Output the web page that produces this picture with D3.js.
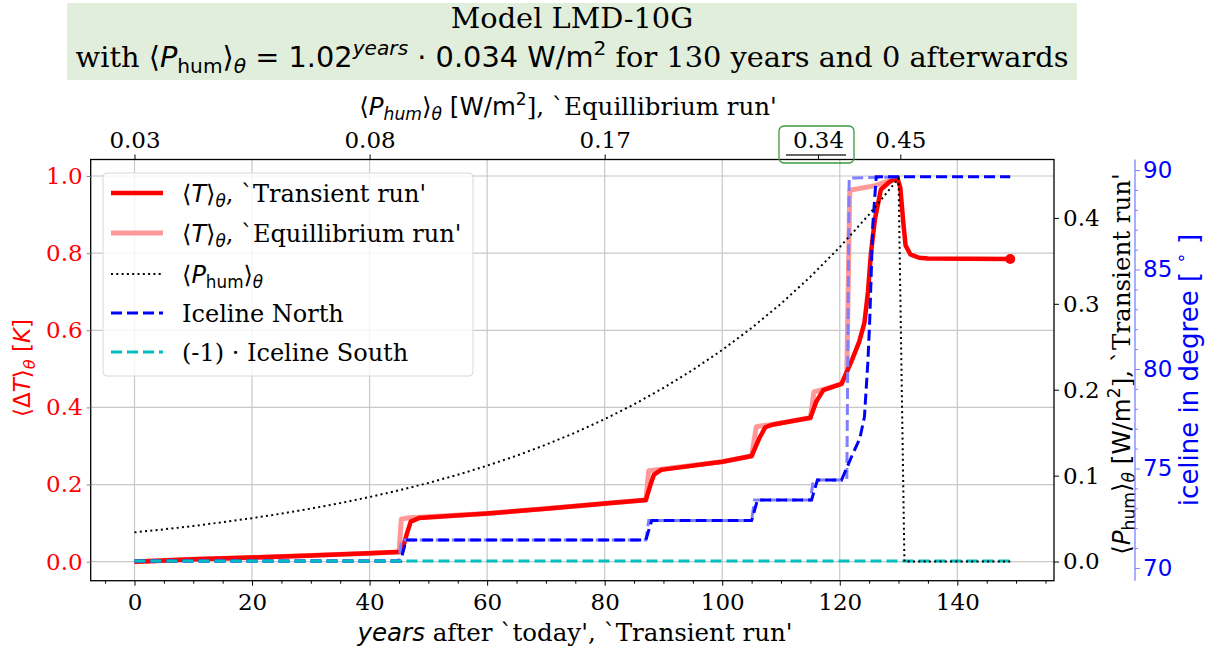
<!DOCTYPE html>
<html><head><meta charset="utf-8">
<script src="https://cdn.jsdelivr.net/npm/d3@7"></script>
<style>body{margin:0;background:#fff}svg{display:block}</style>
</head><body>
<svg id="c" width="1210" height="650"></svg>
<script>
// ---------- data ----------
const tYears   = [0,10,20,30,40,45.5,46.3,47,48.4,60,70,80,87,87.8,88.4,89.6,100,105,106.3,107.3,108.5,115,116,117.2,120.3,122,123.3,124.2,124.8,125.3,126,127,128.5,129.8,130.3,130.8,131.2,132,133.5,135,149];
const tValues  = [0,0.006,0.011,0.016,0.022,0.026,0.07,0.104,0.113,0.125,0.137,0.151,0.16,0.2,0.226,0.238,0.259,0.274,0.32,0.348,0.355,0.373,0.415,0.445,0.461,0.52,0.57,0.62,0.7,0.8,0.89,0.965,0.985,0.995,0.97,0.88,0.82,0.797,0.788,0.786,0.785];
const eqYears  = [0,10,20,30,40,45,45.4,46.3,48.4,60,80,87,87.5,89.6,100,105,105.8,108.5,115,115.6,117.2,120.3,121.2,121.7,126,130];
const eqValues = [0,0.006,0.011,0.016,0.022,0.025,0.11,0.113,0.115,0.125,0.151,0.16,0.236,0.24,0.259,0.274,0.35,0.356,0.373,0.44,0.447,0.461,0.49,0.963,0.975,0.995];
const pYears   = [0,5,10,15,20,25,30,35,40,45,50,55,60,65,70,75,80,85,90,95,100,105,110,115,120,125,130,131,149];
const pValues  = [0.034,0.0375,0.0414,0.0458,0.0505,0.0558,0.0616,0.068,0.0751,0.0829,0.0915,0.101,0.1116,0.1232,0.136,0.1501,0.1658,0.183,0.2021,0.2231,0.2463,0.2719,0.3002,0.3315,0.366,0.4041,0.4461,0,0];
const inYears  = [0,45.3,46.2,87,88,105,106,115.2,116.2,120.3,122,123.4,124.2,124.8,125.1,125.6,126.2,149];
const inValues = [70.35,70.35,71.4,71.4,72.38,72.38,73.42,73.42,74.42,74.42,75.59,76.5,77.6,80.45,82.46,87.15,89.66,89.66];
const ieYears  = [0,45,45.4,87,87.5,105,105.5,115,115.5,121.2,121.6,130];
const ieValues = [70.35,70.35,71.4,71.4,72.38,72.38,73.42,73.42,74.42,74.42,89.6,89.66];
const isYears  = [0,149];
const isValues = [70.35,70.35];
const xTicks = [0,20,40,60,80,100,120,140];
const yTicks = [0,0.2,0.4,0.6,0.8,1.0];
const pTicks = [0,0.1,0.2,0.3,0.4];
const iTicks = [70,75,80,85,90];
const topTickYears  = [0,40,80,116.3,130.3];
const topTickLabels = ["0.03","0.08","0.17","0.34","0.45"];

// ---------- setup ----------
const SERIF = "'DejaVu Serif', serif";
const SANS  = "'DejaVu Sans', sans-serif";
const svg = d3.select('#c');
const L = 90.7, R = 1054, T = 159.5, B = 580.7;
const x  = d3.scaleLinear().domain([-7.45,156.45]).range([L,R]);
const y  = d3.scaleLinear().domain([-0.0493,1.0428]).range([B,T]);
const yP = d3.scaleLinear().domain([-0.0223,0.468]).range([B,T]);
const yI = d3.scaleLinear().domain([69.36,90.53]).range([B,T]);
const TICK = 23, LAB = 24.5, LEG = 24;

function rich(sel, segs, size){
  let cur = 0;
  segs.forEach(s=>{
    const target = s.s==='sub' ? size*0.22 : s.s==='sup' ? -size*0.42 : 0;
    const ts = sel.append('tspan').text(s.t)
      .attr('font-family', s.f==='sans'?SANS:SERIF)
      .attr('font-style', s.i?'italic':'normal')
      .attr('font-size', s.s ? size*0.7 : size);
    if (target!==cur){ ts.attr('dy', target-cur); cur = target; }
  });
  return sel;
}

// ---------- title ----------
svg.append('rect').attr('x',67).attr('y',3).attr('width',1010).attr('height',77).attr('fill','#e1eedc');
svg.append('text').attr('x',572).attr('y',28).attr('text-anchor','middle').attr('font-family',SERIF).attr('font-size',28.8).text('Model LMD-10G');
rich(svg.append('text').attr('x',572).attr('y',67).attr('text-anchor','middle'), [
  {t:'with  ',f:'serif'},{t:'⟨',f:'sans'},{t:'P',f:'sans',i:1},{t:'hum',f:'sans',s:'sub'},{t:'⟩',f:'sans'},
  {t:'θ',f:'sans',i:1,s:'sub'},{t:' = 1.02',f:'sans'},{t:'years',f:'sans',i:1,s:'sup'},{t:' · 0.034 W/m',f:'sans'},
  {t:'2',f:'sans',s:'sup'},{t:' for 130 years and 0 afterwards',f:'serif'}], 28.8);

// ---------- grid ----------
const g = svg.append('g');
g.selectAll('.gx').data(xTicks).join('line').attr('x1',d=>x(d)).attr('x2',d=>x(d)).attr('y1',T).attr('y2',B).attr('stroke','#c8c8c8').attr('stroke-width',1.2);
g.selectAll('.gy').data(yTicks).join('line').attr('y1',d=>y(d)).attr('y2',d=>y(d)).attr('x1',L).attr('x2',R).attr('stroke','#c8c8c8').attr('stroke-width',1.2);

// ---------- lines ----------
const line = (xs, ys, ysc) => d3.line().x((d,i)=>x(xs[i])).y((d,i)=>ysc(ys[i]))(xs);
svg.append('path').attr('d',line(eqYears,eqValues,y)).attr('fill','none').attr('stroke','#ff9999').attr('stroke-width',5).attr('stroke-linejoin','round');
svg.append('path').attr('d',line(tYears,tValues,y)).attr('fill','none').attr('stroke','#ff0000').attr('stroke-width',4.5).attr('stroke-linejoin','round');
svg.append('circle').attr('cx',x(tYears[tYears.length-1])).attr('cy',y(tValues[tValues.length-1])).attr('r',5).attr('fill','#ff0000');
svg.append('path').attr('d',line(ieYears,ieValues,yI)).attr('fill','none').attr('stroke','#8080ff').attr('stroke-width',3).attr('stroke-dasharray','11,5');
svg.append('path').attr('d',line(inYears,inValues,yI)).attr('fill','none').attr('stroke','#0000ff').attr('stroke-width',3).attr('stroke-dasharray','11,5');
svg.append('path').attr('d',line(isYears,isValues,yI)).attr('fill','none').attr('stroke','#00bfbf').attr('stroke-width',3).attr('stroke-dasharray','11,5');
svg.append('path').attr('d',line(pYears,pValues,yP)).attr('fill','none').attr('stroke','#000').attr('stroke-width',2).attr('stroke-dasharray','2,3.3');

// ---------- frame ----------
svg.append('rect').attr('x',L).attr('y',T).attr('width',R-L).attr('height',B-T).attr('fill','none').attr('stroke','#000').attr('stroke-width',1.3);

// bottom axis
const xa = svg.append('g').attr('transform',`translate(0,${B})`).call(d3.axisBottom(x).tickValues(xTicks).tickSize(5).tickSizeOuter(0).tickFormat(d3.format('d')));
xa.select('.domain').remove();
xa.selectAll('text').attr('font-family',SERIF).attr('font-size',TICK).attr('fill','#000').attr('dy','0.92em');
const xm = svg.append('g').attr('transform',`translate(0,${B})`).call(d3.axisBottom(x).tickValues(d3.range(-5,160,5).filter(v=>v%20!==0)).tickSize(3).tickFormat(''));
xm.select('.domain').remove();
rich(svg.append('text').attr('x',575).attr('y',641).attr('text-anchor','middle'),[
  {t:'years',f:'sans',i:1},{t:' after `today\', `Transient run\'',f:'serif'}],LAB);

// left axis
const ya = svg.append('g').attr('transform',`translate(${L},0)`).call(d3.axisLeft(y).tickValues(yTicks).tickSize(4).tickFormat(d3.format('.1f')));
ya.select('.domain').remove();
ya.selectAll('line').attr('stroke','#888');
ya.selectAll('text').attr('font-family',SERIF).attr('font-size',TICK).attr('fill','#ff0000').attr('x',-8);
rich(svg.append('text').attr('transform','translate(30,368) rotate(-90)').attr('text-anchor','middle').attr('fill','#ff0000'),[
  {t:'⟨Δ',f:'sans'},{t:'T',f:'sans',i:1},{t:'⟩',f:'sans'},{t:'θ',f:'sans',i:1,s:'sub'},{t:' [',f:'sans'},{t:'K',f:'sans',i:1},{t:']',f:'sans'}],23);

// top axis
const ta = svg.append('g').attr('transform',`translate(0,${T})`).call(d3.axisTop(x).tickValues(topTickYears).tickSize(5).tickFormat((d,i)=>topTickLabels[i]));
ta.select('.domain').remove();
ta.selectAll('text').attr('font-family',SERIF).attr('font-size',TICK).attr('fill','#000').attr('dy','-0.15em');
rich(svg.append('text').attr('x',568).attr('y',115).attr('text-anchor','middle'),[
  {t:'⟨',f:'sans'},{t:'P',f:'sans',i:1},{t:'hum',f:'sans',i:1,s:'sub'},{t:'⟩',f:'sans'},{t:'θ',f:'sans',i:1,s:'sub'},
  {t:' [W/m',f:'sans'},{t:'2',f:'sans',s:'sup'},{t:'], `Equillibrium run\'',f:'serif'}],LAB);
// highlight box at 0.34
svg.append('rect').attr('x',779).attr('y',126).attr('width',75).attr('height',37).attr('rx',5).attr('fill','none').attr('stroke','#3a9a3a').attr('stroke-width',1.3);
svg.append('line').attr('x1',786).attr('x2',846).attr('y1',155).attr('y2',155).attr('stroke','#333').attr('stroke-width',1.5);

// right axis (P_hum)
const pa = svg.append('g').attr('transform',`translate(${R},0)`).call(d3.axisRight(yP).tickValues(pTicks).tickSize(5).tickFormat(d3.format('.1f')));
pa.select('.domain').remove();
pa.selectAll('text').attr('font-family',SERIF).attr('font-size',TICK).attr('fill','#000').attr('x',9);
rich(svg.append('text').attr('transform','translate(1130,364) rotate(-90)').attr('text-anchor','middle'),[
  {t:'⟨',f:'sans'},{t:'P',f:'sans',i:1},{t:'hum',f:'sans',s:'sub'},{t:'⟩',f:'sans'},{t:'θ',f:'sans',i:1,s:'sub'},
  {t:' [W/m',f:'sans'},{t:'2',f:'sans',s:'sup'},{t:'], `Transient run\'',f:'serif'}],LAB);

// iceline axis
const IX = 1135;
svg.append('line').attr('x1',IX).attr('x2',IX).attr('y1',T).attr('y2',B).attr('stroke','#8080ff').attr('stroke-width',1.3);
const ia = svg.append('g').attr('transform',`translate(${IX},0)`).call(d3.axisRight(yI).tickValues(iTicks).tickSize(5).tickFormat(d3.format('d')));
ia.select('.domain').remove();
ia.selectAll('line').attr('stroke','#8080ff');
ia.selectAll('text').attr('font-family',SANS).attr('font-size',TICK).attr('fill','#0000ff').attr('x',8);
const im = svg.append('g').attr('transform',`translate(${IX},0)`).call(d3.axisRight(yI).tickValues(d3.range(70,91).filter(v=>v%5!==0)).tickSize(3).tickFormat(''));
im.select('.domain').remove();
im.selectAll('line').attr('stroke','#8080ff');
rich(svg.append('text').attr('transform','translate(1198,370) rotate(-90)').attr('text-anchor','middle').attr('fill','#0000ff'),[
  {t:'iceline in degree [ ',f:'sans'},{t:'∘',f:'sans',s:'sup'},{t:' ]',f:'sans'}],26);

// ---------- legend ----------
const lg = svg.append('g');
lg.append('rect').attr('x',103).attr('y',173).attr('width',370).attr('height',203).attr('rx',4).attr('fill','#fff').attr('fill-opacity',0.8).attr('stroke','#d8d8d8');
const legItems = [
  {c:'#ff0000',w:4.5,da:null,segs:[{t:'⟨',f:'sans'},{t:'T',f:'sans',i:1},{t:'⟩',f:'sans'},{t:'θ',f:'sans',i:1,s:'sub'},{t:', `Transient run\'',f:'serif'}]},
  {c:'#ff9999',w:5,da:null,segs:[{t:'⟨',f:'sans'},{t:'T',f:'sans',i:1},{t:'⟩',f:'sans'},{t:'θ',f:'sans',i:1,s:'sub'},{t:', `Equillibrium run\'',f:'serif'}]},
  {c:'#000',w:2,da:'2,3.3',segs:[{t:'⟨',f:'sans'},{t:'P',f:'sans',i:1},{t:'hum',f:'sans',s:'sub'},{t:'⟩',f:'sans'},{t:'θ',f:'sans',i:1,s:'sub'}]},
  {c:'#0000ff',w:3,da:'11,5',segs:[{t:'Iceline North',f:'serif'}]},
  {c:'#00bfbf',w:3,da:'11,5',segs:[{t:'(-1) · Iceline South',f:'serif'}]}
];
const rowY = [193,233,274,313,352];
legItems.forEach((it,i)=>{
  const l = lg.append('line').attr('x1',111).attr('x2',163).attr('y1',rowY[i]).attr('y2',rowY[i]).attr('stroke',it.c).attr('stroke-width',it.w);
  if (it.da) l.attr('stroke-dasharray',it.da);
  rich(lg.append('text').attr('x',182).attr('y',rowY[i]+8.5),it.segs,LEG);
});
</script>
</body></html>
